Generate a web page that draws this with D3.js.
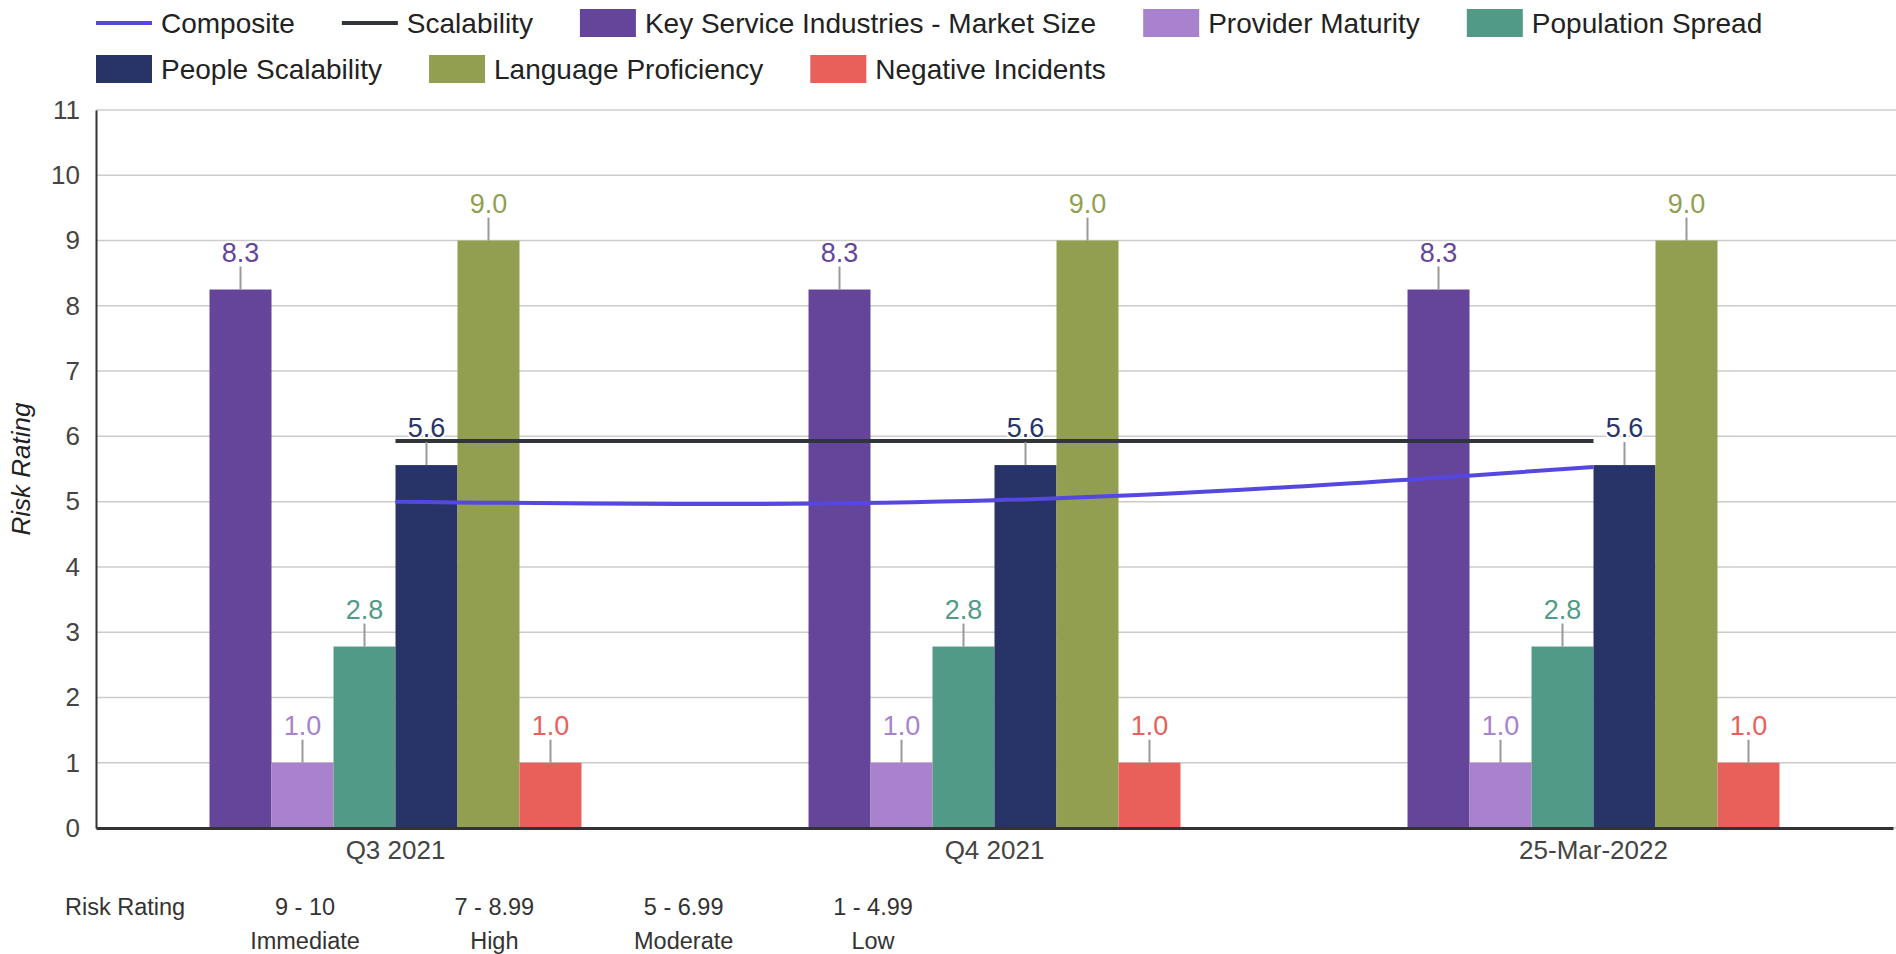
<!DOCTYPE html>
<html>
<head>
<meta charset="utf-8">
<script src="https://cdn.jsdelivr.net/npm/d3@7"></script>
<style>
  body { margin: 0; background: #fff; }
  svg { display: block; font-family: "Liberation Sans", Arial, sans-serif; }
</style>
</head>
<body>
<svg id="chart"></svg>
<script>
// Datos del gráfico
const categories = ["Q3 2021", "Q4 2021", "25-Mar-2022"];

const barSeries = [
  "Key Service Industries - Market Size",
  "Provider Maturity",
  "Population Spread",
  "People Scalability",
  "Language Proficiency",
  "Negative Incidents"
];
const barColors = ["#65459a", "#a882cc", "#519a87", "#283468", "#929f50", "#e9605b"];

const keyServiceValues = [8.25, 8.25, 8.25];
const providerMaturityValues = [1.0, 1.0, 1.0];
const populationSpreadValues = [2.78, 2.78, 2.78];
const peopleScalabilityValues = [5.56, 5.56, 5.56];
const languageProficiencyValues = [9.0, 9.0, 9.0];
const negativeIncidentsValues = [1.0, 1.0, 1.0];

const lineSeries = ["Composite", "Scalability"];
const lineColors = ["#5448e0", "#30343b"];
const compositeValues = [5.0, 5.02, 5.53];
const scalabilityValues = [5.93, 5.93, 5.93];

const yTickValues = [0, 1, 2, 3, 4, 5, 6, 7, 8, 9, 10, 11];

const riskRanges = ["9 - 10", "7 - 8.99", "5 - 6.99", "1 - 4.99"];
const riskLevels = ["Immediate", "High", "Moderate", "Low"];

// Tabla de barras construida desde los arreglos
const barValues = [
  keyServiceValues, providerMaturityValues, populationSpreadValues,
  peopleScalabilityValues, languageProficiencyValues, negativeIncidentsValues
];
const barData = [];
categories.forEach((c, ci) => {
  barSeries.forEach((s, si) => {
    barData.push({ category: c, series: s, value: barValues[si][ci], color: barColors[si] });
  });
});

// Dimensiones
const width = 1896;
const height = 954;
const marginLeft = 96;
const marginRight = 3;
const plotTop = 110;
const plotBottom = 828;

const svg = d3.select("#chart")
    .attr("width", width)
    .attr("height", height);

// Escalas
const x0 = d3.scaleBand()
    .domain(categories)
    .range([marginLeft, width - marginRight])
    .paddingInner(0.379)
    .paddingOuter(0.1895);

const x1 = d3.scaleBand()
    .domain(barSeries)
    .range([0, x0.bandwidth()]);

const y = d3.scaleLinear()
    .domain([0, 11])
    .range([plotBottom, plotTop]);

const fmt = d3.format(".1f");
const cx = c => x0(c) + x0.bandwidth() / 2;

// Rejilla
svg.append("g")
  .selectAll("line")
  .data(yTickValues)
  .join("line")
    .attr("x1", marginLeft)
    .attr("x2", width)
    .attr("y1", d => y(d))
    .attr("y2", d => y(d))
    .attr("stroke", "#cccccc")
    .attr("stroke-width", 1.5);

// Barras
svg.append("g")
  .selectAll("rect")
  .data(barData)
  .join("rect")
    .attr("x", d => x0(d.category) + x1(d.series))
    .attr("y", d => y(d.value))
    .attr("width", x1.bandwidth())
    .attr("height", d => y(0) - y(d.value))
    .attr("fill", d => d.color);

// Líneas
const lineValues = [compositeValues, scalabilityValues];
const curves = [d3.curveNatural, d3.curveLinear];
lineSeries.forEach((name, i) => {
  const line = d3.line()
      .x((d, j) => cx(categories[j]))
      .y(d => y(d))
      .curve(curves[i]);
  svg.append("path")
      .datum(lineValues[i])
      .attr("fill", "none")
      .attr("stroke", lineColors[i])
      .attr("stroke-width", 4)
      .attr("d", line);
});

// Etiquetas de datos con línea guía
const labels = svg.append("g");
labels.selectAll("line")
  .data(barData)
  .join("line")
    .attr("x1", d => x0(d.category) + x1(d.series) + x1.bandwidth() / 2)
    .attr("x2", d => x0(d.category) + x1(d.series) + x1.bandwidth() / 2)
    .attr("y1", d => y(d.value))
    .attr("y2", d => y(d.value) - 23)
    .attr("stroke", "#999999")
    .attr("stroke-width", 2);

labels.selectAll("text")
  .data(barData)
  .join("text")
    .attr("x", d => x0(d.category) + x1(d.series) + x1.bandwidth() / 2)
    .attr("y", d => y(d.value) - 28)
    .attr("text-anchor", "middle")
    .style("font-size", "27px")
    .style("fill", d => d.color)
    .style("stroke", "#fff")
    .style("stroke-width", 4)
    .style("stroke-linejoin", "round")
    .style("paint-order", "stroke")
    .text(d => fmt(d.value));

// Eje vertical
svg.append("g")
    .attr("transform", `translate(${marginLeft},0)`)
    .call(d3.axisLeft(y).tickValues(yTickValues).tickSize(0).tickPadding(16))
    .call(g => g.select(".domain").attr("stroke", "#333").attr("stroke-width", 2))
    .call(g => g.selectAll("text")
        .style("font-size", "26px")
        .style("font-family", "Liberation Sans, Arial, sans-serif")
        .attr("fill", "#444"));

// Eje horizontal
svg.append("g")
    .attr("transform", `translate(0,${plotBottom})`)
    .call(d3.axisBottom(x0).tickSize(0).tickPadding(13).tickSizeOuter(0))
    .call(g => g.select(".domain").attr("stroke", "#333").attr("stroke-width", 3))
    .call(g => g.selectAll("text")
        .style("font-size", "26px")
        .style("font-family", "Liberation Sans, Arial, sans-serif")
        .attr("fill", "#444"));

// Título del eje Y
svg.append("text")
    .attr("transform", `translate(30,${(plotTop + plotBottom) / 2}) rotate(-90)`)
    .attr("text-anchor", "middle")
    .style("font-size", "26px")
    .style("font-style", "italic")
    .style("fill", "#222")
    .text("Risk Rating");

// Leyenda superior
const legendItems = [
  ...lineSeries.map((s, i) => ({ name: s, color: lineColors[i], type: "line" })),
  ...barSeries.map((s, i) => ({ name: s, color: barColors[i], type: "rect" }))
];
const legendRows = [legendItems.slice(0, 5), legendItems.slice(5)];
const legend = svg.append("g").style("font-size", "28px");
legendRows.forEach((row, r) => {
  let xPos = 96;
  const yc = 23 + r * 46;
  row.forEach(item => {
    const g = legend.append("g");
    if (item.type === "line") {
      g.append("rect")
          .attr("x", xPos).attr("y", yc - 2)
          .attr("width", 56).attr("height", 4)
          .attr("fill", item.color);
    } else {
      g.append("rect")
          .attr("x", xPos).attr("y", yc - 14)
          .attr("width", 56).attr("height", 28)
          .attr("fill", item.color);
    }
    const t = g.append("text")
        .attr("x", xPos + 65)
        .attr("y", yc + 10)
        .style("fill", "#222")
        .text(item.name);
    xPos += 65 + t.node().getComputedTextLength() + 47;
  });
});

// Leyenda de niveles de riesgo
const riskX = d3.scalePoint()
    .domain(riskRanges)
    .range([305, 873]);

const risk = svg.append("g")
    .style("font-size", "23.5px")
    .style("fill", "#333");

risk.append("text")
    .attr("x", 65)
    .attr("y", 915)
    .text("Risk Rating");

risk.selectAll(".range")
  .data(riskRanges)
  .join("text")
    .attr("class", "range")
    .attr("x", d => riskX(d))
    .attr("y", 915)
    .attr("text-anchor", "middle")
    .text(d => d);

risk.selectAll(".level")
  .data(riskLevels)
  .join("text")
    .attr("class", "level")
    .attr("x", (d, i) => riskX(riskRanges[i]))
    .attr("y", 949)
    .attr("text-anchor", "middle")
    .text(d => d);
</script>
</body>
</html>
